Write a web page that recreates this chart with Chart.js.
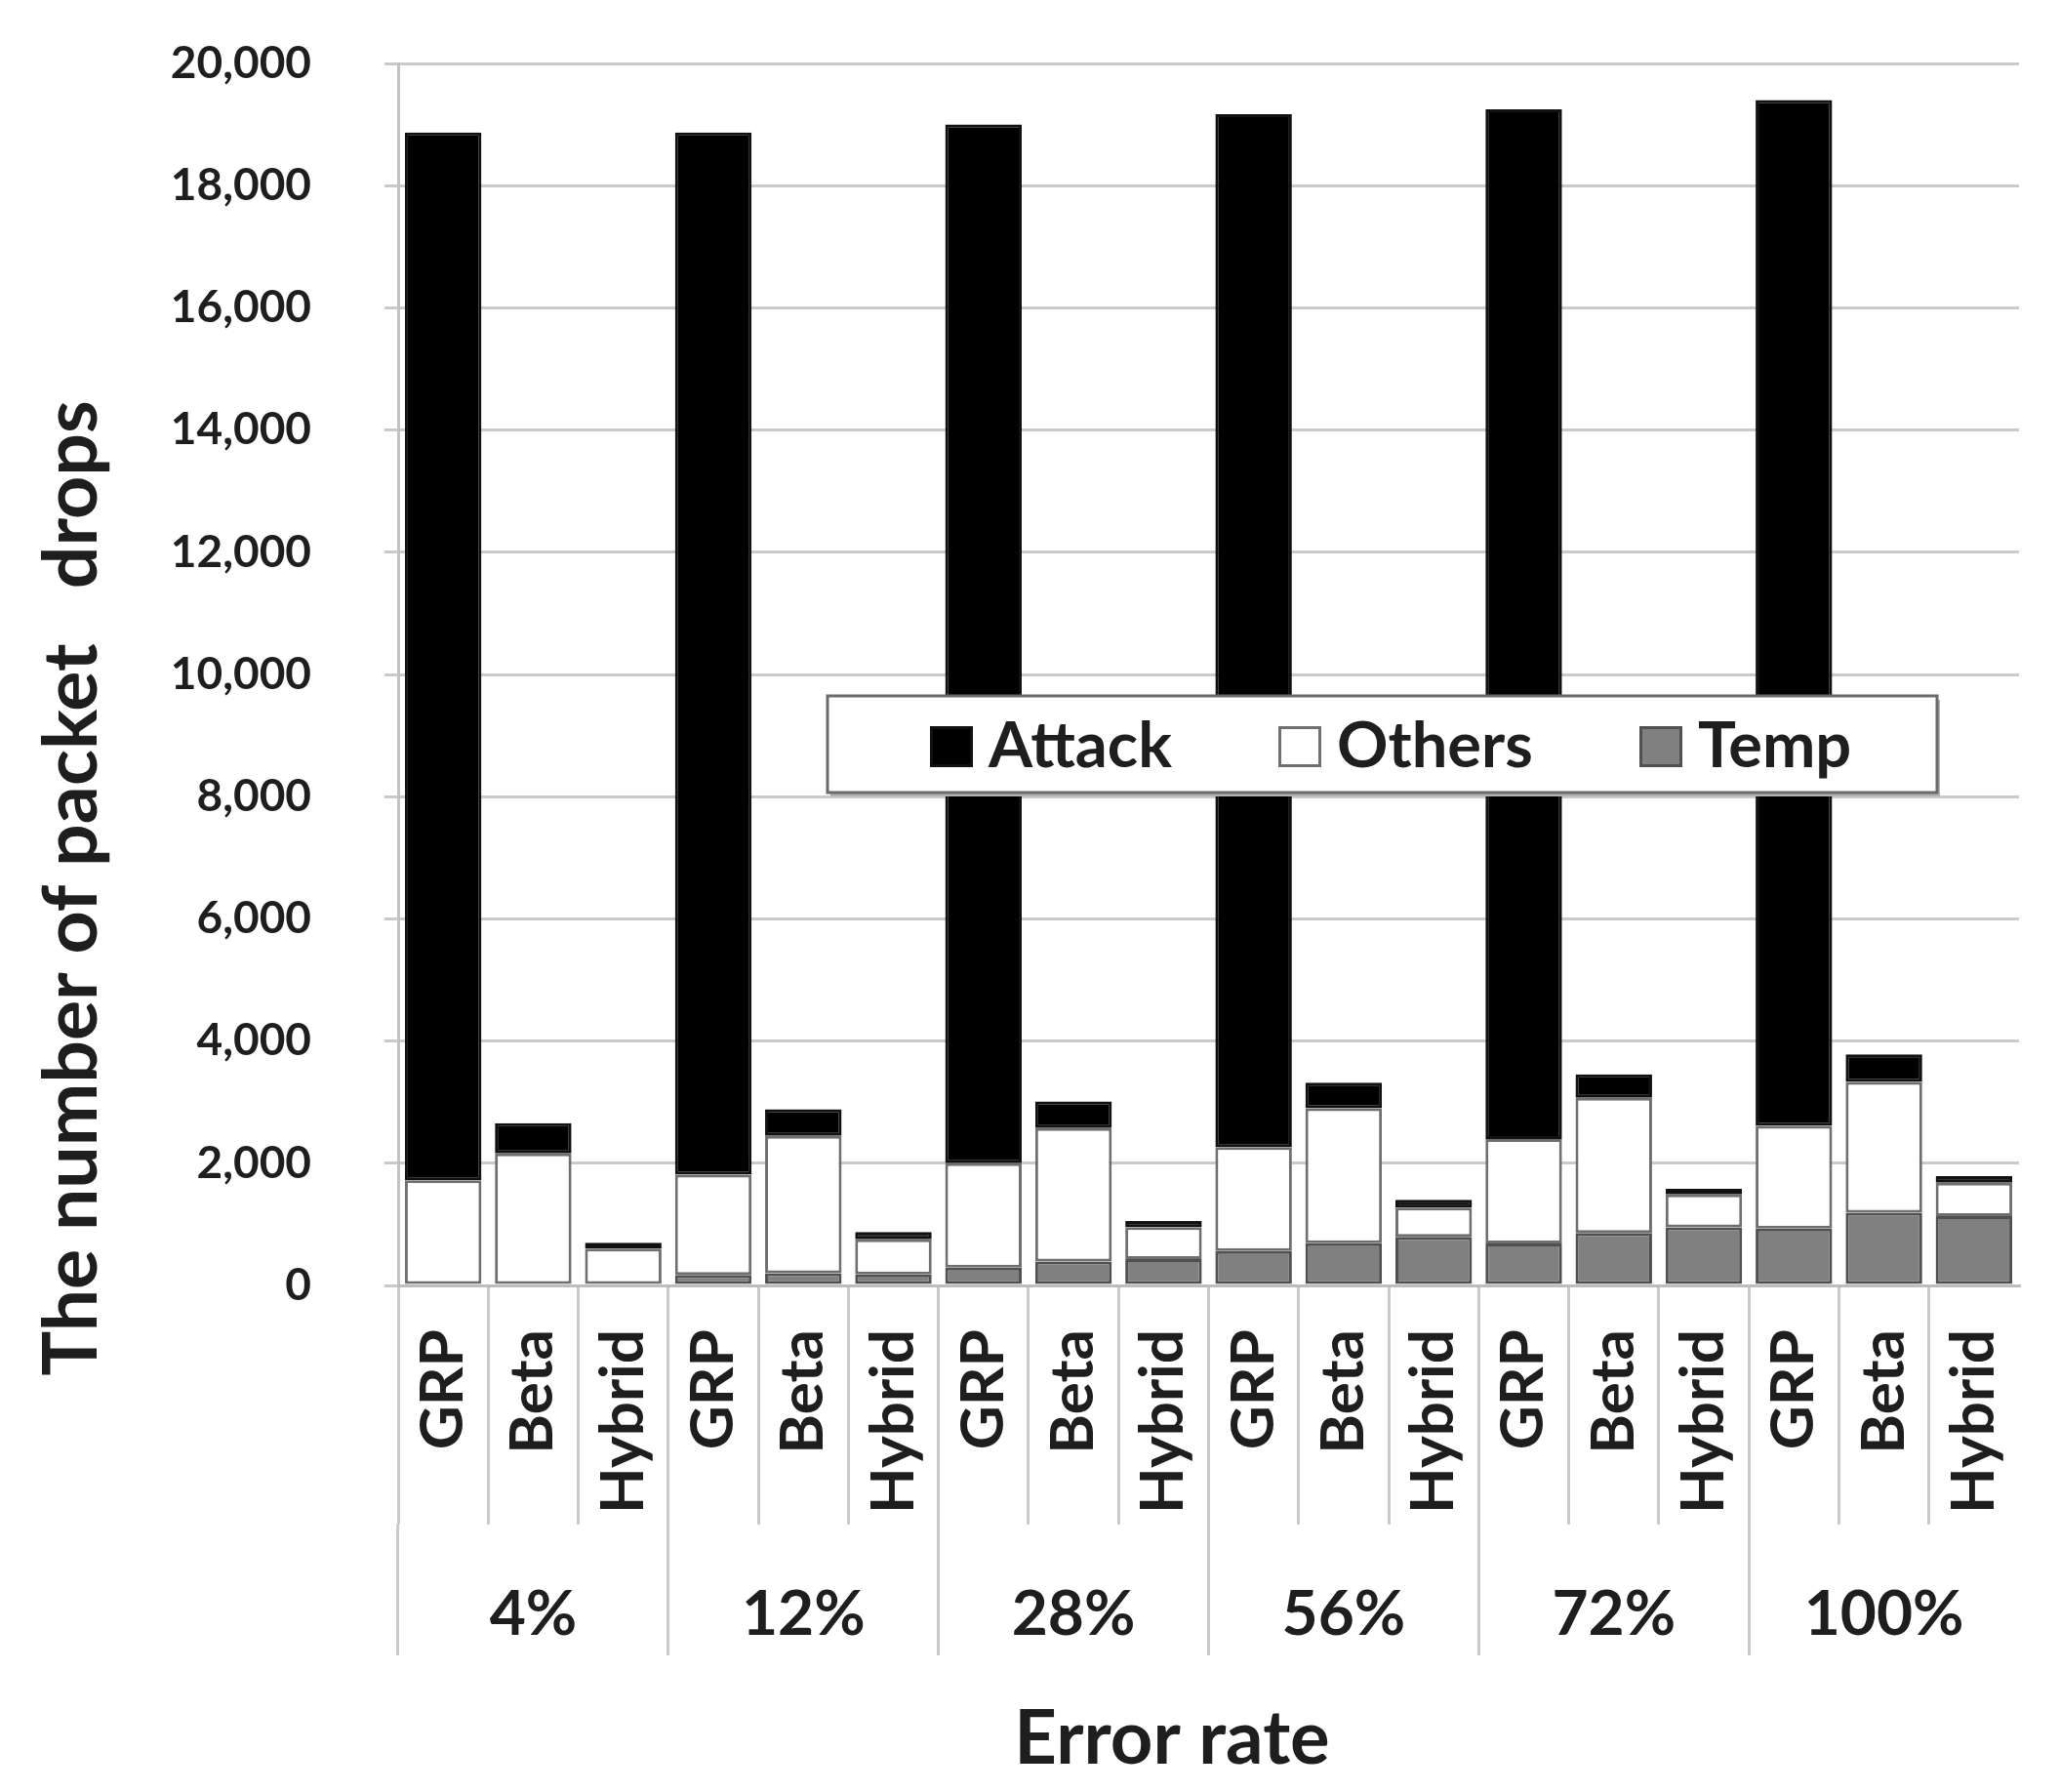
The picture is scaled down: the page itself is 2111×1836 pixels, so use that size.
<!DOCTYPE html>
<html>
<head>
<meta charset="utf-8">
<script src="https://cdn.jsdelivr.net/npm/chart.js@4.4.1/dist/chart.umd.min.js"></script>
<style>
html,body{margin:0;padding:0;background:#ffffff;}
canvas{display:block;}
</style>
</head>
<body>
<canvas id="c" width="2111" height="1836"></canvas>
<script>
// ---- data ----
const errorRates = ['4%', '12%', '28%', '56%', '72%', '100%'];
const schemes = ['GRP', 'Beta', 'Hybrid'];
const categories = errorRates.flatMap(() => schemes);
const seriesNames = ['Attack', 'Others', 'Temp'];
// values per category in order: 4% (GRP, Beta, Hybrid), 12% (...), ...
const tempValues   = [0, 0, 0,   170, 200, 180,   290, 390, 430,   565, 690, 795,   685, 860, 950,   930, 1190, 1135];
const othersValues = [1720, 2160, 605,   1645, 2250, 575,   1710, 2185, 525,   1700, 2210, 480,   1710, 2210, 540,   1680, 2140, 545];
const attackValues = [17150, 495, 95,   17055, 435, 120,   17000, 435, 100,   16905, 420, 125,   16855, 385, 90,   16790, 450, 110];
const yMin = 0, yMax = 20000, yStep = 2000;
const yTitleText = 'The number of packet   drops';
const xTitleText = 'Error rate';

// ---- styles ----
const FONT = 'Lato';
const TXT = '#1e1e1e';
const GRID = '#cacaca';
const colors = {
  Attack: {fill: '#000000', border: '#111111'},
  Others: {fill: '#ffffff', border: '#6f6f6f'},
  Temp:   {fill: '#808080', border: '#505050'}
};

const legendPlugin = {
  id: 'boxLegend',
  afterDraw(chart) {
    const ctx = chart.ctx;
    const ca = chart.chartArea;
    const left = ca.left + 440, top = ca.top + 648, w = 1137, h = 99;
    ctx.save();
    ctx.fillStyle = '#b0b0b0';
    ctx.fillRect(left + 3, top + 4, w, h);
    ctx.fillStyle = '#ffffff';
    ctx.fillRect(left, top, w, h);
    ctx.lineWidth = 3;
    ctx.strokeStyle = '#6a6a6a';
    ctx.strokeRect(left, top, w, h);
    const order = seriesNames;
    const itemX = [105, 462, 832];
    ctx.font = 'bold 65px ' + FONT;
    ctx.textBaseline = 'alphabetic';
    ctx.textAlign = 'left';
    order.forEach((name, i) => {
      const ds = chart.data.datasets.find(d => d.label === name);
      const sx = left + itemX[i], sy = top + 31;
      ctx.fillStyle = ds.backgroundColor;
      ctx.fillRect(sx, sy, 44, 42);
      ctx.lineWidth = 3;
      ctx.strokeStyle = ds.borderColor;
      ctx.strokeRect(sx + 1.5, sy + 1.5, 41, 39);
      ctx.fillStyle = TXT;
      ctx.fillText(name, sx + 60, top + 73);
    });
    ctx.restore();
  }
};

const titlesPlugin = {
  id: 'axisTitles',
  afterDraw(chart) {
    const ctx = chart.ctx;
    ctx.save();
    ctx.fillStyle = TXT;
    ctx.textAlign = 'center';
    ctx.textBaseline = 'middle';
    // y title
    ctx.translate(74, 910);
    ctx.rotate(-Math.PI / 2);
    ctx.font = 'bold 77px ' + FONT;
    ctx.fillText(yTitleText, 0, 0);
    ctx.restore();
    // x title
    ctx.save();
    ctx.fillStyle = TXT;
    ctx.textAlign = 'center';
    ctx.textBaseline = 'middle';
    ctx.font = 'bold 76px ' + FONT;
    ctx.fillText(xTitleText, 1201, 1782);
    ctx.restore();
  }
};

const datasets = [
  {label: 'Temp', data: tempValues},
  {label: 'Others', data: othersValues},
  {label: 'Attack', data: attackValues}
].map(d => ({
  ...d,
  backgroundColor: colors[d.label].fill,
  borderColor: colors[d.label].border,
  borderWidth: 3,
  borderSkipped: false,
  categoryPercentage: 1.0,
  barPercentage: 0.85,
  stack: 's'
}));

new Chart(document.getElementById('c'), {
  type: 'bar',
  data: {labels: categories, datasets},
  options: {
    responsive: false,
    animation: false,
    devicePixelRatio: 1,
    layout: {padding: {top: 65, right: 42, bottom: 18, left: 0}},
    plugins: {legend: {display: false}, tooltip: {enabled: false}},
    scales: {
      y: {
        stacked: true,
        min: yMin, max: yMax,
        ticks: {
          stepSize: yStep,
          padding: 75,
          color: TXT,
          font: {family: FONT, size: 46, weight: 'bold'},
          callback: v => Number(v).toLocaleString('en-US')
        },
        grid: {color: GRID, lineWidth: 3, tickLength: 14, drawTicks: true},
        border: {display: true, color: '#c2c2c2', width: 3},
        afterFit: s => { s.width = 408; s.paddingTop = 30; s.paddingBottom = 30; }
      },
      x: {
        stacked: true,
        position: 'bottom',
        offset: true,
        ticks: {
          autoSkip: false,
          minRotation: 90, maxRotation: 90,
          padding: -200,
          color: TXT,
          font: {family: FONT, size: 62, weight: 'bold'}
        },
        grid: {
          offset: true,
          drawOnChartArea: false,
          tickLength: 245,
          lineWidth: 3,
          color: c => (c.type === 'tick' ? GRID : 'rgba(0,0,0,0)')
        },
        border: {display: true, color: '#bdbdbd', width: 3},
        afterFit: s => { s.height = 245; }
      },
      x2: {
        type: 'category',
        labels: errorRates,
        position: 'bottom',
        offset: true,
        ticks: {
          autoSkip: false,
          maxRotation: 0, minRotation: 0,
          padding: -80,
          color: TXT,
          font: {family: FONT, size: 64, weight: 'bold'}
        },
        grid: {
          offset: true,
          drawOnChartArea: false,
          tickLength: 134,
          lineWidth: 3,
          color: c => (c.type === 'tick' ? GRID : 'rgba(0,0,0,0)')
        },
        border: {display: false},
        title: {display: false},
        afterFit: s => { s.height = 256; }
      }
    }
  },
  plugins: [legendPlugin, titlesPlugin]
});
</script>
</body>
</html>
